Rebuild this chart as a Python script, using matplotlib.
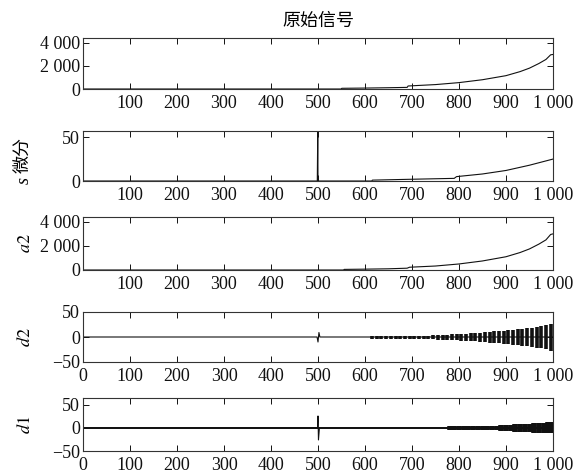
import matplotlib
matplotlib.use('Agg')
import matplotlib.pyplot as plt
from matplotlib.ticker import FuncFormatter

plt.rcParams['font.family'] = ['Liberation Serif', 'Noto Sans CJK SC']
plt.rcParams['mathtext.fontset'] = 'stix'
plt.rcParams['font.size'] = 13

# 原始信号 (breakpoints)
orig_x = [1, 550, 551, 600, 650, 690, 692, 750, 800, 850, 900, 930, 950, 970, 985, 995, 1000]
orig_y = [0, 0, 60, 80, 110, 140, 260, 380, 550, 800, 1150, 1500, 1800, 2200, 2550, 2950, 2980]

# s 微分
sd_x = [1, 499, 500, 500.5, 615, 616, 700, 790, 795, 850, 900, 950, 1000]
sd_y = [0, 0, 60, 0, 0, 1, 2, 3, 5, 8, 12, 18, 25]

# a2
a2_x = [1, 555, 556, 600, 650, 690, 695, 750, 800, 850, 900, 930, 950, 970, 985, 995, 1000]
a2_y = [0, 0, 50, 70, 100, 150, 230, 330, 500, 750, 1100, 1450, 1750, 2150, 2500, 2950, 3000]

# d2: wiggle near 500 and oscillation bars from ~610
d2_wx = [0, 498, 500, 502, 504, 1000]
d2_wy = [0, 0, -10, 9, 0, 0]
d2_bx = [615, 625, 635, 645, 655, 665, 675, 685, 695, 705, 715, 725, 735, 745,
         755, 765, 775, 785, 795, 805, 815, 825, 835, 845, 855, 865, 875, 885,
         895, 905, 915, 925, 935, 945, 955, 965, 975, 985, 995]
d2_amp = [3, 3, 3, 3, 3, 3, 3, 3, 3, 3, 3, 3, 3, 4,
          5, 5, 5, 6, 6, 7, 7, 8, 8, 9, 10, 11, 12, 12,
          13, 14, 15, 16, 17, 18, 19, 21, 22, 24, 27]

# d1: spike near 500 and oscillation bars from ~780
d1_wx = [0, 499, 500, 501, 503, 1000]
d1_wy = [0, 0, 26, -26, 0, 0]
d1_bx = [780, 790, 800, 810, 820, 830, 840, 850, 860, 870, 880, 890, 900,
         910, 920, 930, 940, 950, 960, 970, 980, 990, 998]
d1_amp = [4, 4, 4, 4, 4, 4, 4, 4, 5, 5, 5, 6, 6,
          7, 8, 8, 9, 9, 10, 10, 11, 12, 12]

ticks_top = [100, 200, 300, 400, 500, 600, 700, 800, 900, 1000]
ticks_bot = [0, 100, 200, 300, 400, 500, 600, 700, 800, 900, 1000]


def fmt(v, pos):
    s = f'{abs(int(round(v))):,}'.replace(',', ' ')
    return ('\u2212' + s) if v < 0 else s


W, H = 576, 475
L, R = 83, 553
rects = [(38, 89), (131, 181), (217, 270), (312, 362), (398, 451)]

fig = plt.figure(figsize=(W / 100, H / 100), dpi=100)
axes = []
for top, bot in rects:
    ax = fig.add_axes([L / W, 1 - bot / H, (R - L) / W, (bot - top) / H])
    axes.append(ax)

lc = '#111111'
axes[0].plot(orig_x, orig_y, color=lc, lw=0.8)
axes[0].set_ylim(0, 4400)
axes[0].set_yticks([0, 2000, 4000])
axes[0].set_title('原始信号', fontsize=13, pad=9)

axes[1].plot(sd_x, sd_y, color=lc, lw=0.8)
axes[1].set_ylim(0, 57)
axes[1].set_yticks([0, 50])
# "s 微分": italic s below, Chinese above (rotated)
axes[1].text(-0.125, 0.02, 's', transform=axes[1].transAxes, rotation=90,
             ha='center', va='center', style='italic', fontsize=13)
axes[1].text(-0.125, 0.52, '微分', transform=axes[1].transAxes, rotation=90,
             ha='center', va='center', fontsize=13)

axes[2].plot(a2_x, a2_y, color=lc, lw=0.8)
axes[2].set_ylim(0, 4400)
axes[2].set_yticks([0, 2000, 4000])
axes[2].set_ylabel('$a2$')

axes[3].plot(d2_wx, d2_wy, color=lc, lw=0.8)
axes[3].vlines(d2_bx, [-a for a in d2_amp], d2_amp, color=lc, lw=2.6)
axes[3].set_ylim(-50, 50)
axes[3].set_yticks([-50, 0, 50])
axes[3].set_ylabel('$d2$')

axes[4].plot(d1_wx, d1_wy, color=lc, lw=0.8)
axes[4].axhline(0, color=lc, lw=1.4)
axes[4].vlines(d1_bx, [-a for a in d1_amp], d1_amp, color=lc, lw=4.0)
axes[4].set_ylim(-50, 65)
axes[4].set_yticks([-50, 0, 50])
axes[4].set_ylabel('$d1$')

for i, ax in enumerate(axes):
    if i < 3:
        ax.set_xlim(1, 1000)
        ax.set_xticks(ticks_top)
    else:
        ax.set_xlim(0, 1000)
        ax.set_xticks(ticks_bot)
    ax.xaxis.set_major_formatter(FuncFormatter(fmt))
    ax.yaxis.set_major_formatter(FuncFormatter(fmt))
    ax.tick_params(direction='in', top=True, right=True, length=4,
                   width=0.7, labelsize=13, colors='#111111')
    ax.tick_params(axis='x', pad=4)
    ax.tick_params(axis='y', pad=2)
    for sp in ax.spines.values():
        sp.set_linewidth(0.8)
        sp.set_color('#333333')
    ax.yaxis.set_label_coords(-0.105, 0.5)

fig.savefig('out.png', dpi=100)
